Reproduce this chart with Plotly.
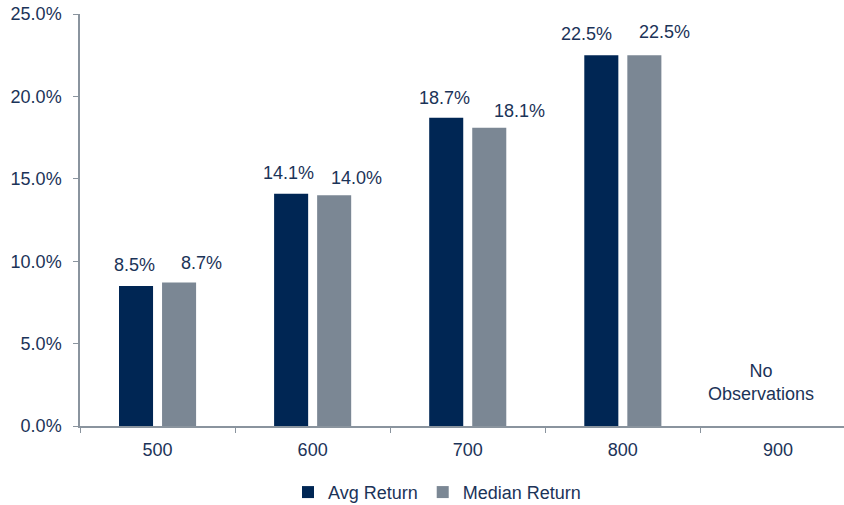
import plotly.graph_objects as go

categories = ["500", "600", "700", "800", "900"]
avg_return = [8.5, 14.1, 18.7, 22.5, None]
median_return = [8.7, 14.0, 18.1, 22.5, None]
y_ticks = [0, 5, 10, 15, 20, 25]
y_tick_labels = ["0.0%", "5.0%", "10.0%", "15.0%", "20.0%", "25.0%"]

# label placement tweaks (pixels, relative to each bar's top centre)
avg_label_dx = [-2, -2.5, -2, -14.5, 0]
avg_label_gap = [13.7, 14, 13, 14, 0]
med_label_dx = [22, 22.5, 30.5, 20.5, 0]
med_label_gap = [13, 10.7, 10, 16, 0]

AVG_COLOR = "#002654"
MED_COLOR = "#7B8794"
TEXT_COLOR = "#1B3358"
AXIS_COLOR = "#8A949E"
FONT = "Liberation Sans, Arial, sans-serif"
BAR_OFFSET = 21.5

fig = go.Figure()
fig.add_trace(go.Bar(x=categories, y=avg_return, name="Avg Return",
                     marker=dict(color=AVG_COLOR, line=dict(width=0))))
fig.add_trace(go.Bar(x=categories, y=median_return, name="Median Return",
                     marker=dict(color=MED_COLOR, line=dict(width=0))))

for series, base, dxs, gaps in ((avg_return, -BAR_OFFSET, avg_label_dx, avg_label_gap),
                                (median_return, BAR_OFFSET, med_label_dx, med_label_gap)):
    for i, v in enumerate(series):
        if v is None:
            continue
        fig.add_annotation(x=i, y=v, xref="x", yref="y", text=f"{v:.1f}%", showarrow=False,
                           xshift=base + dxs[i], yshift=gaps[i] - 5, yanchor="bottom",
                           font=dict(size=18, color=TEXT_COLOR, family=FONT))

fig.add_annotation(x=4, y=0, xref="x", yref="y", text="No<br>Observations", showarrow=False,
                   xshift=-17, yshift=20, yanchor="bottom",
                   font=dict(size=18, color=TEXT_COLOR, family=FONT))

fig.update_layout(
    width=844, height=505,
    margin=dict(l=80, r=0, t=14, b=79, autoexpand=False),
    plot_bgcolor="white", paper_bgcolor="white",
    barmode="group", bargap=0.445, bargroupgap=0.209,
    font=dict(family=FONT, size=18, color=TEXT_COLOR),
    showlegend=True,
    legend=dict(orientation="h", x=(437 - 80) / 764, xanchor="center", yref="container",
                y=0.025, yanchor="middle",
                font=dict(size=18, color=TEXT_COLOR, family=FONT),
                itemwidth=30, traceorder="normal"),
)
fig.update_xaxes(range=[-0.5, 4.426], showline=True, linecolor=AXIS_COLOR, linewidth=1.5,
                 ticks="outside", tickson="boundaries", ticklen=5, tickcolor=AXIS_COLOR,
                 ticklabelstandoff=7,
                 showgrid=False, tickfont=dict(size=18, color=TEXT_COLOR))
fig.update_yaxes(range=[0, 25], tickvals=y_ticks, ticktext=y_tick_labels,
                 showline=True, linecolor=AXIS_COLOR, linewidth=1.5,
                 ticks="outside", ticklen=5, tickcolor=AXIS_COLOR,
                 ticklabelstandoff=8,
                 showgrid=False, zeroline=False, tickfont=dict(size=18, color=TEXT_COLOR))

fig.write_html("out.html")
